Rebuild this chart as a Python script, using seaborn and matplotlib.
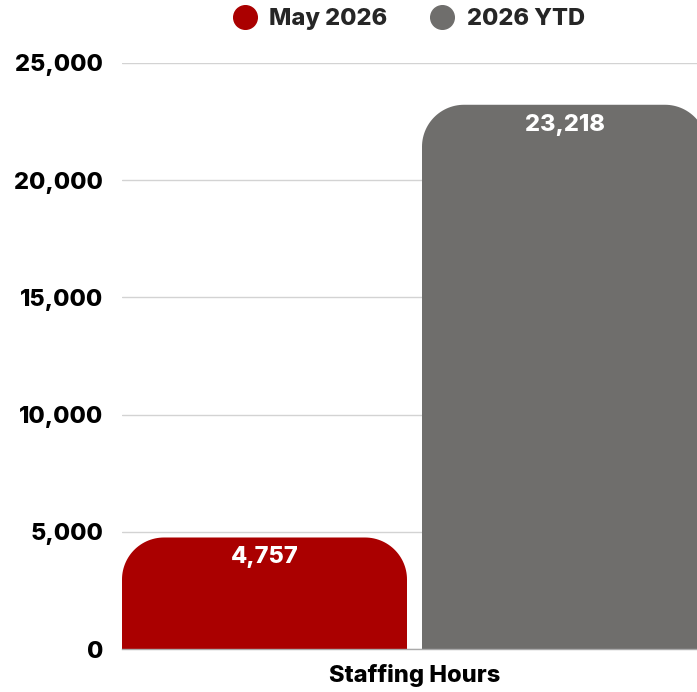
import numpy as np
import pandas as pd
import matplotlib
matplotlib.use("Agg")
import matplotlib.pyplot as plt
from matplotlib.path import Path
from matplotlib.patches import PathPatch
from matplotlib.lines import Line2D
import seaborn as sns

# Data
category = ["Staffing Hours"]
series = ["May 2026", "2026 YTD"]
values = [4757, 23218]
colors = ["#AA0000", "#6F6E6C"]
y_ticks = [0, 5000, 10000, 15000, 20000, 25000]

df = pd.DataFrame({
    "category": category * len(series),
    "series": series,
    "value": values,
})

sns.set_theme(style="white")
plt.rcParams["font.family"] = ["Inter", "DejaVu Sans"]
FS = 17
WEIGHT = 800

fig = plt.figure(figsize=(6.97, 6.92), dpi=100)
ax = fig.add_axes([122 / 697, 43 / 692, 585 / 697, 586 / 692])

sns.barplot(data=df, x="category", y="value", hue="series", palette=colors,
            width=1.0, gap=0.05, saturation=1, ax=ax, legend=False)

bars = [p for p in ax.patches]
xmin = min(p.get_x() for p in bars)
xmax = max(p.get_x() + p.get_width() for p in bars)
ax.set_xlim(xmin, xmax)
ax.set_ylim(0, 25000)
fig.canvas.draw()


def rounded_top(patch, r_px=42):
    """Replace a bar rectangle with one whose top corners are rounded."""
    x0, y0 = patch.get_x(), patch.get_y()
    w, h = patch.get_width(), patch.get_height()
    (px0, py0) = ax.transData.transform((0, 0))
    (px1, py1) = ax.transData.transform((1, 1))
    rx = min(r_px / (px1 - px0), w / 2)
    ry = min(r_px / (py1 - py0), h)
    t = np.linspace(0, np.pi / 2, 30)
    verts = [(x0, y0), (x0, y0 + h - ry)]
    verts += [(x0 + rx - rx * np.cos(a), y0 + h - ry + ry * np.sin(a)) for a in t]
    verts += [(x0 + w - rx + rx * np.sin(a), y0 + h - ry + ry * np.cos(a)) for a in t]
    verts += [(x0 + w, y0), (x0, y0)]
    codes = [Path.MOVETO] + [Path.LINETO] * (len(verts) - 2) + [Path.CLOSEPOLY]
    new = PathPatch(Path(verts, codes), facecolor=patch.get_facecolor(),
                    edgecolor="none", zorder=2)
    patch.set_visible(False)
    ax.add_patch(new)
    return new


for p, v in zip(bars, values):
    rounded_top(p)
    ax.annotate(f"{v:,}", xy=(p.get_x() + p.get_width() / 2, p.get_height()),
                xytext=(0, -20), textcoords="offset pixels",
                ha="center", va="center", fontsize=FS, fontweight=WEIGHT,
                color="white")

# Axes styling
ax.set_yticks(y_ticks)
ax.set_yticklabels([f"{t:,}" for t in y_ticks], fontsize=FS, fontweight=WEIGHT, color="black")
ax.tick_params(axis="y", length=0, pad=13.5)
ax.tick_params(axis="x", length=0, pad=10.5)
ax.set_xticks([(xmin + xmax) / 2])
ax.set_xticklabels(category, fontsize=FS, fontweight=WEIGHT, color="black")
ax.set_xlabel("")
ax.set_ylabel("")
ax.yaxis.grid(True, color="#D3D3D3", linewidth=1)
ax.set_axisbelow(True)
for s in ["top", "right", "left"]:
    ax.spines[s].set_visible(False)
ax.spines["bottom"].set_color("#AAAAAA")
ax.spines["bottom"].set_linewidth(1)

handles = [Line2D([0], [0], marker="o", linestyle="", markersize=17,
                  markerfacecolor=c, markeredgecolor=c) for c in colors]
fig.legend(handles, series, loc="center", bbox_to_anchor=(403 / 697, 1 - 19 / 692),
           ncol=2, frameon=False, handletextpad=0.05, columnspacing=1.3,
           prop=dict(size=FS, weight=WEIGHT))

fig.savefig("out.png", dpi=100)
